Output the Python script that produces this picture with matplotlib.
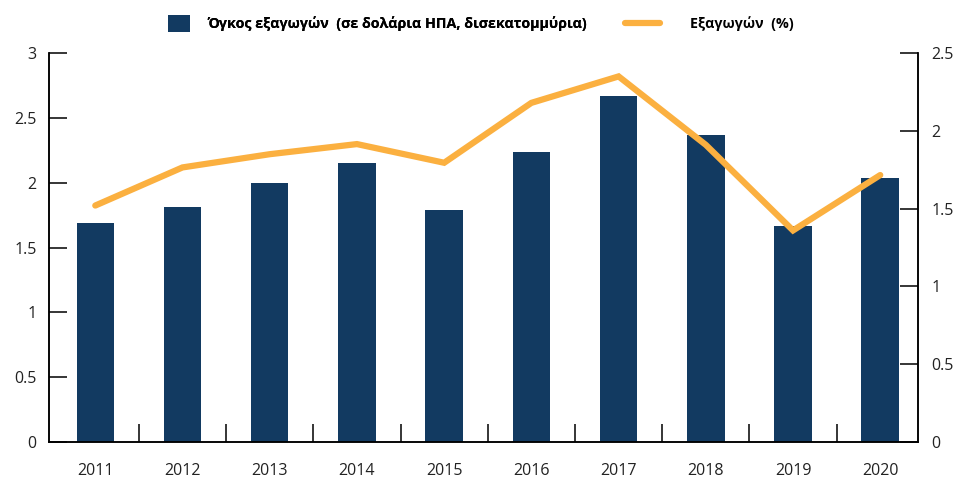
import matplotlib.pyplot as plt
from matplotlib.patches import Patch
from matplotlib.lines import Line2D
import numpy as np

# data
years = ['2011', '2012', '2013', '2014', '2015', '2016', '2017', '2018', '2019', '2020']
volume = [1.69, 1.81, 2.00, 2.15, 1.79, 2.24, 2.67, 2.37, 1.67, 2.04]      # bars, left axis
share = [1.52, 1.765, 1.85, 1.915, 1.795, 2.18, 2.35, 1.91, 1.36, 1.716]   # line, right axis
left_ticks = [0, 0.5, 1, 1.5, 2, 2.5, 3]
right_ticks = [0, 0.5, 1, 1.5, 2, 2.5]

BAR_C = '#123a61'
LINE_C = '#fbb040'
TXT_C = '#222222'

plt.rcParams['font.family'] = ['Open Sans', 'DejaVu Sans']

fig = plt.figure(figsize=(9.62, 4.79), dpi=100)
ax = fig.add_axes([0.051, 0.0772, 0.903, 0.812])
ax2 = ax.twinx()

x = np.arange(len(years))
ax.bar(x, volume, width=0.43, color=BAR_C, zorder=2)
ax2.plot(x, share, color=LINE_C, lw=4.5, solid_capstyle='round', solid_joinstyle='miter', zorder=3)

ax.set_xlim(-0.53, 9.43)
ax.set_ylim(0, 3)
ax2.set_ylim(0, 2.5)
ax.set_yticks(left_ticks)
ax.set_yticklabels([f'{t:g}' for t in left_ticks])
ax2.set_yticks(right_ticks)
ax2.set_yticklabels([f'{t:g}' for t in right_ticks])

ax.set_xticks(x)
ax.set_xticklabels(years)
ax.set_xticks(x[:-1] + 0.5, minor=True)

for a in (ax, ax2):
    a.spines['top'].set_visible(False)
    for s in a.spines.values():
        s.set_linewidth(1.1)
        s.set_color('black')

ax.tick_params(axis='y', direction='in', length=13, width=1.1, pad=9, labelsize=11.5, colors=TXT_C)
ax.tick_params(axis='y', color='black')
ax2.tick_params(axis='y', direction='in', length=13, width=1.1, pad=10, labelsize=11.5, labelcolor=TXT_C)
ax.tick_params(axis='x', which='major', length=0, pad=15, labelsize=11.5, labelcolor=TXT_C)
ax.tick_params(axis='x', which='minor', direction='in', length=13, width=1.1)

# legend: two separate entries placed like the reference
leg1 = fig.legend([Patch(facecolor=BAR_C, edgecolor='none')],
                  ['Όγκος εξαγωγών  (σε δολάρια ΗΠΑ, δισεκατομμύρια)'],
                  loc='center left', bbox_to_anchor=(168 / 962, 0.951), frameon=False,
                  prop={'weight': 'bold', 'size': 10.3}, borderpad=0, borderaxespad=0,
                  handlelength=1.54, handleheight=1.47, handletextpad=1.19)
fig.add_artist(leg1)
fig.legend([Line2D([0], [0], color=LINE_C, lw=4.5, solid_capstyle='round')],
           ['Εξαγωγών  (%)'],
           loc='center left', bbox_to_anchor=(625 / 962, 0.951), frameon=False,
           prop={'weight': 'bold', 'size': 10.3}, borderpad=0, borderaxespad=0,
           handlelength=2.45, handletextpad=2.1)

fig.savefig('out.png', dpi=100)
